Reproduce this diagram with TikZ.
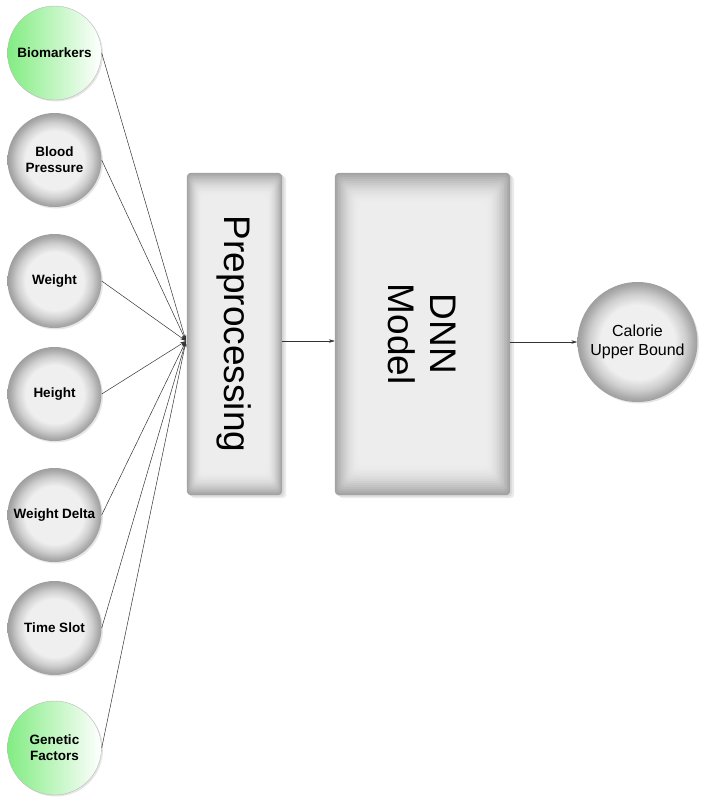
\documentclass[tikz,border=0pt]{standalone}
\usepackage{fontspec}
\setmainfont{Liberation Sans}
\usetikzlibrary{arrows.meta,shadows,backgrounds,calc}
\definecolor{gin}{RGB}{239,239,239}
\definecolor{gout}{RGB}{158,158,158}
\definecolor{gleft}{RGB}{130,236,130}
\pgfdeclareradialshading{ballgray}{\pgfpoint{0bp}{0bp}}{color(0bp)=(gin); color(15.5bp)=(gin); color(20bp)=(gout!40!gin); color(23.5bp)=(gout!85!gin); color(25bp)=(gout); color(50bp)=(gout)}
\newcommand\bevelbox[3]{%
  \begin{scope}[on background layer]
    \fill[black!8, rounded corners=4pt] ($(#1.north west)+(4,3)$) rectangle ($(#1.south east)+(4,3)$);
    \fill[black!14, rounded corners=4pt] ($(#1.north west)+(2,1.5)$) rectangle ($(#1.south east)+(2,1.5)$);
    \foreach \i in {0,...,16}{
      \pgfmathsetmacro\c{7+29*(1-\i/16)^2}
      \fill[black!\c, rounded corners=4pt] ($(#1.north west)+(#2*\i,#3*\i)$) rectangle ($(#1.south east)-(#2*\i,#3*\i)$);
    }
  \end{scope}}
\tikzset{
  inp/.style={circle, minimum size=94pt, inner sep=0pt, align=center,
    font=\bfseries\fontsize{13.5}{16}\selectfont, shading=ballgray, draw=none,
    drop shadow={shadow xshift=1.5pt, shadow yshift=-1.5pt, opacity=0.2}},
  ginp/.style={inp, left color=gleft, right color=white, draw=gray!55, line width=0.4pt},
  bigbox/.style={rectangle, inner sep=0pt, align=center, rotate=-90,
    font=\fontsize{37}{42}\selectfont},
  conn/.style={draw=black!80, line width=0.5pt, -{Stealth[length=6pt,width=3.5pt]}},
}
\begin{document}
\begin{tikzpicture}[x=1pt,y=-1pt]
\useasboundingbox (0,0) rectangle (703,804);
% inputs
\node[ginp] (bio) at (54.5,53) {Biomarkers};
\node[inp] (bp) at (54.5,160) {Blood\\Pressure};
\node[inp] (wt) at (54.5,281) {Weight};
\node[inp] (ht) at (54.5,394) {Height};
\node[inp] (wd) at (54.5,515) {Weight Delta};
\node[inp] (ts) at (54.5,628) {Time Slot};
\node[ginp] (gf) at (54.5,748) {Genetic\\Factors};
% boxes
\node[minimum width=95pt, minimum height=322pt, inner sep=0pt] (pre) at (234.5,334) {};
\node[bigbox] (pretext) at (pre.center) {Preprocessing};
\bevelbox{pre}{1.0}{1.5}
\node[minimum width=175pt, minimum height=322pt, inner sep=0pt] (dnn) at (422.5,334) {};
\node[bigbox] (dnntext) at (dnn.center) {DNN\\Model};
\bevelbox{dnn}{1.6}{2.0}
% output
\node[circle, minimum size=120pt, inner sep=0pt, align=center, font=\fontsize{16}{19}\selectfont,
  shading=ballgray, draw=none,
  drop shadow={shadow xshift=1.5pt, shadow yshift=-1.5pt, opacity=0.2}] (cal) at (637.5,342) {Calorie\\Upper Bound};
% connectors
\coordinate (hub) at (186,341);
\foreach \n in {bio,bp,wt,ht,wd,ts,gf}{
  \draw[conn] (\n.east) -- (hub);
}
\draw[conn] (pre.east |- hub) -- (dnn.west |- hub);
\draw[conn] (dnn.east |- cal.center) -- (cal.west);
\end{tikzpicture}
\end{document}
